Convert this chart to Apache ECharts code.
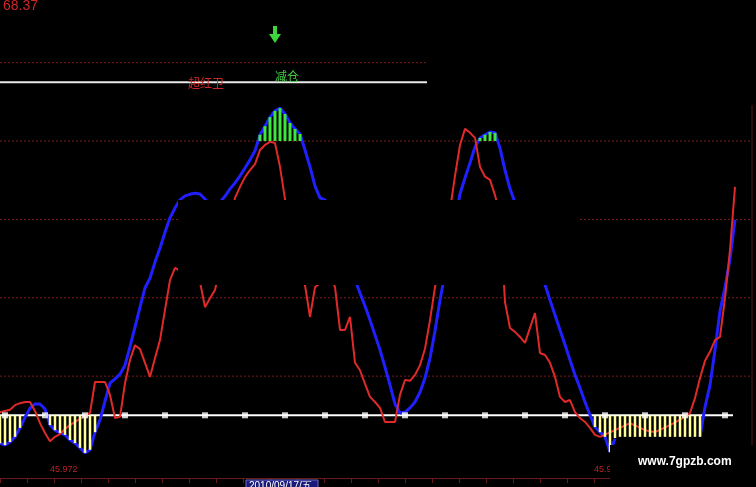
<!DOCTYPE html>
<html><head><meta charset="utf-8">
<script src="https://cdn.jsdelivr.net/npm/echarts@6/dist/echarts.min.js"></script>
<style>html,body{margin:0;padding:0;background:#000;}#c{width:756px;height:487px;}</style>
</head><body><div id="c"></div>
<script>
// ---- data (day index, value) ----
const blueLine = [[0,-7.1],[1,-7.6],[2,-6.8],[3,-5.5],[4,-3.2],[5,-0.5],[6,1.8],[7,2.9],[8,2.9],[9,1.6],
 [10,-2.5],[11,-3.8],[12,-4.5],[13,-5.0],[14,-6.3],[15,-7.1],[16,-8.3],[17,-9.6],[18,-8.8],[19,-4.3],
 [20,-1.2],[21,3.6],[22,8.2],[23,9.3],[24,10.5],[25,12.8],[26,17.5],[27,22.5],[28,27.6],[29,32.5],
 [30,35.0],[31,39.1],[32,42.7],[33,46.7],[34,50.4],[35,52.9],[36,55.0],[37,56.0],[38,56.4],[39,56.7],
 [40,56.5],[41,55.2],[42,53.6],[43,53.9],[44,54.4],[45,55.9],[46,57.8],[47,59.3],[48,61.1],[49,63.1],
 [50,65.2],[51,67.5],[52,71.6],[53,73.8],[54,76.1],[55,77.7],[56,78.4],[57,76.9],[58,74.6],[59,73.1],
 [60,71.8],[61,67.7],[62,63.4],[63,58.5],[64,55.5],[65,55.0],[72,31.2],[73,27.9],[74,24.3],[75,20.5],
 [76,16.7],[77,12.3],[78,7.7],[79,2.9],[80,0.6],[81,0.8],[82,1.9],[83,3.4],[84,5.9],[85,9.5],
 [86,14.6],[87,21.5],[88,29.4],[92,56.5],[93,60.6],[94,64.4],[95,68.5],[96,70.8],[97,71.6],[98,72.3],
 [99,72.1],[100,68.2],[101,62.6],[102,57.8],[109,33.3],[110,29.4],[111,25.6],[112,21.8],[113,18.0],[114,14.1],
 [115,10.3],[116,7.0],[117,3.4],[118,0.1],[119,-3.0],[120,-4.3],[121,-5.5],[122,-9.4],[123,-6.0],[124,'-'],
 [140,-5.5],[141,2.1],[142,7.7],[143,16.7],[144,26.6],[145,32.6],[146,39.9],[147,49.9]];

const redLine = [[0,0.8],[1,1.1],[2,1.4],[3,2.6],[4,3.1],[5,3.4],[6,3.4],[7,1.1],[8,-2.0],[9,-4.5],
 [10,-6.6],[11,-5.5],[12,-4.8],[13,-3.5],[14,-2.5],[15,-1.7],[16,-0.9],[17,-0.2],[18,0.6],[19,8.5],
 [20,8.5],[21,8.5],[22,5.2],[23,-0.7],[24,-0.4],[25,8.2],[26,14.1],[27,17.9],[28,16.9],[29,13.4],
 [30,9.8],[31,14.6],[32,19.2],[33,26.9],[34,34.5],[35,37.6],[40,34.0],[41,27.6],[42,29.9],[43,32.0],
 [47,55.5],[48,58.3],[49,60.8],[50,62.6],[51,64.1],[52,67.7],[53,69.0],[54,69.8],[55,69.5],[56,63.4],
 [57,55.2],[60,37.0],[61,33.2],[62,25.1],[63,32.7],[66,35.8],[67,32.7],[68,21.8],[69,21.8],[70,25.1],
 [71,13.4],[72,11.5],[73,8.0],[74,4.7],[75,3.4],[76,1.9],[77,-1.7],[78,-1.7],[79,-1.7],[80,5.2],
 [81,9.0],[82,8.8],[83,10.3],[84,12.8],[85,17.0],[86,24.3],[87,32.7],[90,52.4],[91,61.1],[92,69.0],
 [93,73.1],[94,72.1],[95,70.8],[96,63.4],[97,60.9],[98,60.1],[99,56.2],[100,51.1],[101,28.9],[102,22.3],
 [103,21.3],[104,20.0],[105,18.5],[106,22.3],[107,26.1],[108,15.9],[109,15.4],[110,13.4],[111,9.8],[112,4.7],
 [113,3.4],[114,3.9],[115,0.8],[116,-0.7],[117,-1.7],[118,-3.2],[119,-5.0],[120,-5.5],[123,-3.8],[126,-2.0],
 [129,-3.8],[131,-4.3],[134,-2.5],[137,-0.4],[138,0.6],[139,4.4],[140,9.5],[141,13.9],[142,16.2],[143,19.2],
 [144,20.0],[145,29.9],[146,42.2],[147,58.3]];

const yellowBars = [[0,-7.1],[1,-7.6],[2,-6.8],[3,-5.5],[4,-3.2],
 [10,-2.5],[11,-3.8],[12,-4.5],[13,-5.0],[14,-6.3],[15,-7.1],[16,-8.3],[17,-9.6],[18,-8.8],[19,-4.3],
 [119,-3.0],[120,-4.3],[121,-5.5],[122,-9.4],[123,-5.8],[124,-5.5],[125,-5.5],[126,-5.5],[127,-5.5],[128,-5.5],
 [129,-5.5],[130,-5.5],[131,-5.5],[132,-5.5],[133,-5.5],[134,-5.5],[135,-5.5],[136,-5.5],[137,-5.5],[138,-5.5],
 [139,-5.5],[140,-5.5]];
const greenBars = [[52,71.6],[53,73.8],[54,76.1],[55,77.7],[56,78.4],[57,76.9],[58,74.6],[59,73.1],[60,71.8],
 [96,70.8],[97,71.6],[98,72.3],[99,72.1]];
const greenBase = 70;
const baseLevel = 0;
const baseEnd = 146.6;
const baseMarkDays = [1,9,17,25,33,41,49,57,65,73,81,89,97,105,113,121,129,137,145];
const gridLevels = [10,30,50,70];
const gridEnd = 150.2;
const upperLevel = 90;
const whiteLevel = 85;
const upperEnd = 85.4;
const topValueLabel = '68.37';
const lowLabel = '45.972';
const signalLeft = '超红卫';
const signalRight = '减仓';
const dateLabel = '2010/09/17/五';
const watermark = 'www.7gpzb.com';

// ---- chart ----
const chart = echarts.init(document.getElementById('c'), null, {renderer:'canvas'});
function barRender(width, color){
  return function(params, api){
    const d = api.value(0), b = api.value(1), t = api.value(2);
    const p0 = api.coord([d,b]), p1 = api.coord([d,t]);
    return {type:'rect', shape:{x:p0[0]-width/2, y:Math.min(p0[1],p1[1]), width:width, height:Math.abs(p1[1]-p0[1])}, style:{fill:color}};
  };
}
const levelSeries = gridLevels.map(l => ({
  type:'line', data:[[0,l],[gridEnd,l]], symbol:'none', silent:true, z:1,
  lineStyle:{color:'#7a1c1c', width:1, type:[2,2]}
}));
levelSeries.push({type:'line', data:[[0,upperLevel],[upperEnd,upperLevel]], symbol:'none', silent:true, z:1,
  lineStyle:{color:'#7a1c1c', width:1, type:[2,2]}});
levelSeries.push({type:'line', data:[[0,whiteLevel],[upperEnd,whiteLevel]], symbol:'none', silent:true, z:1,
  lineStyle:{color:'#e8e8e8', width:2}});

const option = {
  backgroundColor:'#000',
  animation:false,
  grid:{left:0, right:0, top:0, bottom:9},
  xAxis:{type:'value', min:0, max:151.2, interval:5.4,
    axisLine:{show:true, onZero:false, lineStyle:{color:'#6a1a1a', width:1}},
    axisTick:{show:true, length:5, lineStyle:{color:'#6a1a1a'}},
    axisLabel:{show:false}, splitLine:{show:false}},
  yAxis:{type:'value', min:-16, max:106, show:false},
  series: levelSeries.concat([
    {type:'line', data:[[0,baseLevel],[baseEnd,baseLevel]], symbol:'none', silent:true, z:2,
      lineStyle:{color:'#ffffff', width:2}},
    {type:'line', data:blueLine, symbol:'none', z:3, connectNulls:false, lineStyle:{color:'#2020ff', width:3}},
    {type:'line', data:redLine, symbol:'none', z:4, lineStyle:{color:'#e02a2a', width:2}},
    {type:'custom', data:yellowBars.map(p=>[p[0],baseLevel,p[1]]), encode:{x:0,y:[1,2]}, z:5,
      renderItem:barRender(2.5,'#ffff9c')},
    {type:'custom', data:greenBars.map(p=>[p[0],greenBase,p[1]]), encode:{x:0,y:[1,2]}, z:5,
      renderItem:barRender(3,'#3ee63e')},
    {type:'scatter', data:baseMarkDays.map(d=>[d,baseLevel]), symbol:'rect', symbolSize:6, z:6,
      itemStyle:{color:'#ffffff'}, silent:true}
  ]),
  graphic:[
    {type:'rect', shape:{x:178,y:200,width:400,height:85}, style:{fill:'#000'}, z:100},
    {type:'line', shape:{x1:752,y1:105,x2:752,y2:478}, style:{stroke:'#5c1414', lineWidth:1}, z:100},
    {type:'text', left:3, top:-1, style:{text:topValueLabel, fill:'#d02828', font:'14px Arial'}, z:101},
    {type:'text', left:188, top:77, style:{text:signalLeft, fill:'#c82828', font:'12px "Noto Sans CJK SC"'}, z:101},
    {type:'text', left:275, top:70, style:{text:signalRight, fill:'#44cc44', font:'12px "Noto Sans CJK SC"'}, z:101},
    {type:'polygon', shape:{points:[[273,26],[277,26],[277,34],[281,34],[275,43],[269,34],[273,34]]}, style:{fill:'#3ad83a'}, z:101},
    {type:'text', left:50, top:465, style:{text:lowLabel, fill:'#b82424', font:'9px Arial'}, z:101},
    {type:'text', left:594, top:465, style:{text:lowLabel, fill:'#b82424', font:'9px Arial'}, z:101},
    {type:'rect', shape:{x:246,y:480,width:72,height:12}, style:{fill:'#1a1a78', stroke:'#6a6ad0', lineWidth:1}, z:101},
    {type:'text', left:249, top:481, style:{text:dateLabel, fill:'#ffffff', font:'10px Arial'}, z:102},
    {type:'rect', shape:{x:610,y:445,width:146,height:42}, style:{fill:'#000'}, z:103},
    {type:'text', left:638, top:456, style:{text:watermark, fill:'#ffffff', font:'bold 12px Arial'}, z:104}
  ]
};
chart.setOption(option);
</script>
</body></html>
